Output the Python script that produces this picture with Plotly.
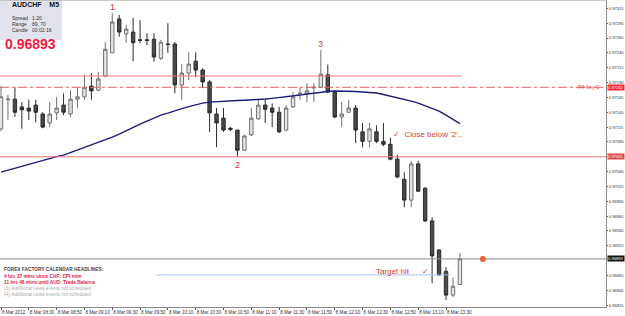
import plotly.graph_objects as go

# ---------------- data ----------------
bar_index = list(range(67))
opens = [0.97112, 0.97161, 0.97162, 0.97149, 0.97147, 0.97152, 0.97137, 0.97122, 0.97139, 0.97152,
         0.97137, 0.97162, 0.97166, 0.97184, 0.97177, 0.97201, 0.97240, 0.97297, 0.97272, 0.97275,
         0.97262, 0.97262, 0.97263, 0.97231, 0.97255, 0.97255, 0.97186, 0.97206, 0.97226, 0.97211,
         0.97191, 0.97137, 0.97130, 0.97113, 0.97110, 0.97076, 0.97102, 0.97129, 0.97152, 0.97147,
         0.97140, 0.97110, 0.97149, 0.97171, 0.97171, 0.97181, 0.97182, 0.97203, 0.97174, 0.97132,
         0.97140, 0.97147, 0.97107, 0.97091, 0.97107, 0.97091, 0.97086, 0.97061, 0.97027, 0.96992,
         0.97053, 0.97012, 0.96957, 0.96908, 0.96872, 0.96832, 0.96850]
highs = [0.97184, 0.97169, 0.97182, 0.97157, 0.97161, 0.97161, 0.97140, 0.97157, 0.97166, 0.97172,
         0.97177, 0.97181, 0.97203, 0.97206, 0.97208, 0.97258, 0.97307, 0.97304, 0.97287, 0.97299,
         0.97295, 0.97273, 0.97273, 0.97262, 0.97290, 0.97258, 0.97221, 0.97241, 0.97241, 0.97214,
         0.97194, 0.97147, 0.97147, 0.97115, 0.97110, 0.97102, 0.97147, 0.97162, 0.97161, 0.97155,
         0.97149, 0.97152, 0.97174, 0.97181, 0.97189, 0.97189, 0.97245, 0.97220, 0.97177, 0.97157,
         0.97161, 0.97152, 0.97122, 0.97122, 0.97118, 0.97122, 0.97097, 0.97068, 0.97039, 0.97058,
         0.97058, 0.97014, 0.96963, 0.96909, 0.96879, 0.96862, 0.96903]
lows = [0.97108, 0.97127, 0.97132, 0.97112, 0.97127, 0.97123, 0.97113, 0.97115, 0.97127, 0.97135,
        0.97132, 0.97147, 0.97161, 0.97161, 0.97176, 0.97199, 0.97240, 0.97267, 0.97257, 0.97226,
        0.97257, 0.97253, 0.97225, 0.97228, 0.97240, 0.97172, 0.97161, 0.97194, 0.97199, 0.97181,
        0.97107, 0.97081, 0.97107, 0.97108, 0.97065, 0.97075, 0.97100, 0.97127, 0.97122, 0.97115,
        0.97105, 0.97108, 0.97147, 0.97161, 0.97157, 0.97157, 0.97181, 0.97172, 0.97130, 0.97115,
        0.97139, 0.97088, 0.97081, 0.97081, 0.97088, 0.97083, 0.97059, 0.97029, 0.96980, 0.96980,
        0.97006, 0.96955, 0.96852, 0.96864, 0.96824, 0.96829, 0.96849]
closes = [0.97166, 0.97162, 0.97140, 0.97144, 0.97142, 0.97140, 0.97115, 0.97137, 0.97147, 0.97140,
          0.97162, 0.97166, 0.97182, 0.97176, 0.97196, 0.97246, 0.97292, 0.97275, 0.97280, 0.97257,
          0.97261, 0.97261, 0.97233, 0.97258, 0.97254, 0.97186, 0.97206, 0.97221, 0.97211, 0.97191,
          0.97139, 0.97122, 0.97110, 0.97111, 0.97076, 0.97100, 0.97130, 0.97152, 0.97145, 0.97140,
          0.97107, 0.97147, 0.97166, 0.97172, 0.97176, 0.97182, 0.97204, 0.97174, 0.97132, 0.97137,
          0.97147, 0.97110, 0.97091, 0.97112, 0.97091, 0.97086, 0.97061, 0.97031, 0.96992, 0.97053,
          0.97007, 0.96957, 0.96898, 0.96866, 0.96832, 0.96847, 0.96893]
moving_avg = [0.970392, 0.970426, 0.970459, 0.970493, 0.970527, 0.970560, 0.970594, 0.970628, 0.970653, 0.970678,
              0.970720, 0.970762, 0.970805, 0.970847, 0.970889, 0.970931, 0.970982, 0.971032, 0.971091, 0.971150,
              0.971201, 0.971251, 0.971302, 0.971352, 0.971386, 0.971428, 0.971462, 0.971495, 0.971529, 0.971554,
              0.971571, 0.971580, 0.971588, 0.971593, 0.971597, 0.971602, 0.971605, 0.971613, 0.971622, 0.971634,
              0.971645, 0.971656, 0.971672, 0.971689, 0.971706, 0.971723, 0.971740, 0.971748, 0.971757, 0.971757,
              0.971757, 0.971748, 0.971740, 0.971731, 0.971723, 0.971698, 0.971672, 0.971647, 0.971622, 0.971588,
              0.971554, 0.971512, 0.971470, 0.971420, 0.971352, 0.971285, 0.971209]

x_tick_bars = list(range(0, 65, 4))
x_tick_labels = ["8 Mar 2012", "8 Mar 08:30", "8 Mar 08:50", "8 Mar 09:10", "8 Mar 09:30",
                 "8 Mar 09:50", "8 Mar 10:10", "8 Mar 10:30", "8 Mar 10:50", "8 Mar 11:10",
                 "8 Mar 11:30", "8 Mar 11:50", "8 Mar 12:10", "8 Mar 12:30", "8 Mar 12:50",
                 "8 Mar 13:10", "8 Mar 13:30"]

level_resistance = 0.97201   # solid red, upper
level_r4_key = 0.97182       # dash-dot red
level_support = 0.97065      # solid red, lower
level_bid = 0.96893          # current price
level_target = 0.96866       # target line
target_start, target_end = 22.4, 64.6
marker_bar = 69.3

highlight_levels = [(level_r4_key, "#f02828"), (level_support, "#e04848"), (level_bid, "#111111")]

all_ticks = [0.96815 + 0.00025 * k for k in range(21)]
y_tick_values = [v for v in all_ticks if all(abs(v - h) > 0.00005 for h, _ in highlight_levels)]
y_tick_labels = ["%.5f" % v for v in y_tick_values]

swing_labels = [("1", 16, 0.97317), ("2", 34, 0.97051), ("3", 46, 0.97255)]

# ---------------- figure ----------------
X0, X1 = -0.144, 87.01
Y0, Y1 = 0.96812, 0.97329
PW, PH = 606, 307

def px(xp):
    return xp / PW

def py(yp):
    return 1 - yp / PH

FONT = "Arial, Liberation Sans, sans-serif"

fig = go.Figure()

fig.add_trace(go.Scatter(x=bar_index, y=moving_avg, mode="lines",
                         line=dict(color="#1c1c7a", width=1.4),
                         hoverinfo="skip", showlegend=False))

fig.add_trace(go.Candlestick(
    x=bar_index, open=opens, high=highs, low=lows, close=closes,
    increasing=dict(line=dict(color="#707070", width=1), fillcolor="#e6e6e6"),
    decreasing=dict(line=dict(color="#2a2a2a", width=1), fillcolor="#4a4a4a"),
    whiskerwidth=0, hoverinfo="skip", showlegend=False))

fig.add_trace(go.Scatter(x=[marker_bar], y=[level_bid], mode="markers",
                         marker=dict(color="#ff5a1a", size=6),
                         hoverinfo="skip", showlegend=False))

shapes = [
    dict(type="line", xref="x", yref="y", x0=X0, x1=66.2, y0=level_resistance, y1=level_resistance,
         line=dict(color="#f07474", width=1)),
    dict(type="line", xref="paper", yref="y", x0=0, x1=1, y0=level_r4_key, y1=level_r4_key,
         line=dict(color="#e06060", width=1, dash="dashdot")),
    dict(type="line", xref="paper", yref="y", x0=0, x1=1, y0=level_support, y1=level_support,
         line=dict(color="#f07474", width=1)),
    dict(type="line", xref="paper", yref="y", x0=0, x1=1, y0=level_bid, y1=level_bid,
         line=dict(color="#8a8a8a", width=1)),
    dict(type="line", xref="x", yref="y", x0=target_start, x1=target_end, y0=level_target, y1=level_target,
         line=dict(color="#a8c4e4", width=1)),
    # info box
    dict(type="rect", xref="paper", yref="paper", x0=0, x1=px(62), y0=py(40), y1=1,
         fillcolor="#e2e2ec", line=dict(width=0), layer="below"),
    # top border
    dict(type="line", xref="paper", yref="paper", x0=0, x1=1, y0=1, y1=1,
         line=dict(color="#9a9a9a", width=1)),
]

ann = []
for t, b, v in swing_labels:
    ann.append(dict(x=b, y=v, xref="x", yref="y", text=t, showarrow=False,
                    font=dict(family=FONT, size=9, color="#d03a3a")))

info_rows = [("Spread", "1.20", 12.5), ("Range", "89, 70", 18.5), ("Candle", "00:02:16", 24.5)]
for lab, val, yy in info_rows:
    ann.append(dict(x=px(10), y=py(yy), xref="paper", yref="paper", text=lab, showarrow=False,
                    xanchor="left", font=dict(family=FONT, size=5, color="#333")))
    ann.append(dict(x=px(30), y=py(yy), xref="paper", yref="paper", text=val, showarrow=False,
                    xanchor="left", font=dict(family=FONT, size=5, color="#333")))

ann += [
    dict(x=px(10), y=py(4.5), xref="paper", yref="paper", text="<b>AUDCHF&nbsp;&nbsp;&nbsp;&nbsp;M5</b>",
         showarrow=False, xanchor="left", yanchor="middle", font=dict(family=FONT, size=7, color="#111")),
    dict(x=px(3), y=py(33.5), xref="paper", yref="paper", text="<b>%.5f</b>" % closes[-1], showarrow=False,
         xanchor="left", font=dict(family=FONT, size=14, color="#ee1c3c")),
    # news
    dict(x=px(2), y=py(274), xref="paper", yref="paper", text="<b>FOREX FACTORY CALENDAR HEADLINES:</b>",
         showarrow=False, xanchor="left", font=dict(family=FONT, size=4.8, color="#444")),
    dict(x=px(2), y=py(280.5), xref="paper", yref="paper", text="<b>4 hrs 27 mins since CHF: CPI m/m</b>",
         showarrow=False, xanchor="left", font=dict(family=FONT, size=4.8, color="#e8203a")),
    dict(x=px(2), y=py(286.5), xref="paper", yref="paper", text="<b>11 hrs 48 mins until AUD: Trade Balance</b>",
         showarrow=False, xanchor="left", font=dict(family=FONT, size=4.8, color="#e8203a")),
    dict(x=px(2), y=py(292.5), xref="paper", yref="paper", text="(3) Additional news events not scheduled",
         showarrow=False, xanchor="left", font=dict(family=FONT, size=4.8, color="#aaa")),
    dict(x=px(2), y=py(298.5), xref="paper", yref="paper", text="(4) Additional news events not scheduled",
         showarrow=False, xanchor="left", font=dict(family=FONT, size=4.8, color="#aaa")),
    # trade notes
    dict(x=56.1, y=0.97102, xref="x", yref="y", text="✓&nbsp;&nbsp;Close below '2'..", showarrow=False,
         xanchor="left", font=dict(family=FONT, size=8, color="#d83a3a")),
    dict(x=53.6, y=0.96872, xref="x", yref="y", text="Target hit&nbsp;&nbsp;&nbsp;&nbsp;&nbsp;&nbsp;✓", showarrow=False,
         xanchor="left", font=dict(family=FONT, size=8, color="#d83a3a")),
    dict(x=px(576), y=level_r4_key, xref="paper", yref="y", text="R4 Key C", showarrow=False,
         xanchor="left", yanchor="middle", font=dict(family=FONT, size=5, color="#e04040")),
]

for v, bg in highlight_levels:
    ann.append(dict(x=1, y=v, xref="paper", yref="y", text="%.5f" % v, showarrow=False,
                    xanchor="left", xshift=1, bgcolor=bg, borderpad=0,
                    font=dict(family=FONT, size=4.1, color="#ffffff")))

fig.update_layout(
    width=625, height=316,
    margin=dict(l=0, r=19, t=0, b=9, pad=0),
    paper_bgcolor="white", plot_bgcolor="white",
    shapes=shapes, annotations=ann,
    xaxis=dict(range=[X0, X1], rangeslider=dict(visible=False), showgrid=False, zeroline=False,
               automargin=False, tickangle=0,
               tickvals=x_tick_bars, ticktext=x_tick_labels, ticks="outside", ticklen=2,
               tickcolor="#555", ticklabelposition="outside right", ticklabelstandoff=0,
               tickfont=dict(family=FONT, size=4.6, color="#333"),
               showline=True, linecolor="#8a8a8a", linewidth=1),
    yaxis=dict(range=[Y0, Y1], side="right", showgrid=False, zeroline=False,
               automargin=False, ticklabelstandoff=0,
               tickvals=y_tick_values, ticktext=y_tick_labels, ticks="outside", ticklen=1,
               tickcolor="#555", tickfont=dict(family=FONT, size=4.1, color="#333"),
               showline=True, linecolor="#8a8a8a", linewidth=1),
)

fig.write_html("out.html")
